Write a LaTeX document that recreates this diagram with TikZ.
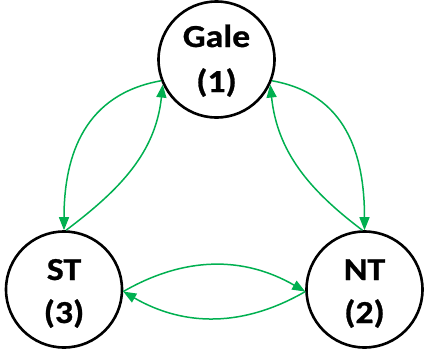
\documentclass[tikz,border=0pt]{standalone}
\usepackage{fontspec}
\setmainfont{Carlito}[FakeStretch=1.12]
\newfontfamily\lblfont{Carlito}[FakeStretch=1.12,FakeBold=0.8]
\usetikzlibrary{arrows.meta}
\definecolor{grn}{RGB}{0,176,80}
\tikzset{
  statenode/.style={circle, draw=black, line width=2.6pt, minimum size=116pt, inner sep=0pt, fill=white},
  lbl/.style={anchor=base, font=\lblfont\bfseries\fontsize{32}{32}\selectfont, inner sep=0pt},
  conn/.style={draw=grn, line width=1.5pt, -{Triangle[length=13pt,width=10pt]}},
}
\begin{document}
\begin{tikzpicture}[x=1pt,y=-1pt]
\useasboundingbox (0,0) rectangle (424,354);
\node[statenode] (gale) at (216.5,59.5) {};
\node[statenode] (st) at (64,289.5) {};
\node[statenode] (nt) at (364.5,289.5) {};
\node[lbl] (galet) at (216.5,47) {Gale};
\node[lbl] (galen) at (216.5,92) {(1)};
\node[lbl] (stt) at (64,280) {ST};
\node[lbl] (stn) at (64,323) {(3)};
\node[lbl] (ntt) at (364.5,280) {NT};
\node[lbl] (ntn) at (364.5,323) {(2)};
% left pair
\draw[conn] (gale.201) to[out=190,in=90,looseness=1.1] (st.90);
\draw[conn] (st.88) to[out=37,in=264] (gale.205);
% right pair
\draw[conn] (gale.339) to[out=-10,in=90,looseness=1.1] (nt.90);
\draw[conn] (nt.92) to[out=143,in=276] (gale.335);
% bottom pair
\draw[conn] (st.-2) to[bend left=30] (nt.182);
\draw[conn] (nt.182) to[bend left=30] (st.-2);
\end{tikzpicture}
\end{document}
